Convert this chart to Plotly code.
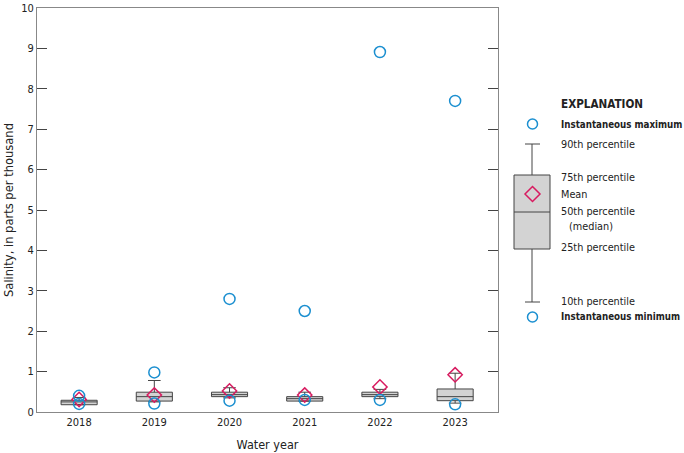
import plotly.graph_objects as go

years = ["2018", "2019", "2020", "2021", "2022", "2023"]
p10 = [0.20, 0.25, 0.35, 0.28, 0.33, 0.22]
q1 = [0.18, 0.27, 0.38, 0.27, 0.38, 0.28]
median = [0.25, 0.38, 0.43, 0.33, 0.43, 0.38]
q3 = [0.29, 0.49, 0.49, 0.38, 0.49, 0.57]
p90 = [0.36, 0.78, 0.60, 0.49, 0.56, 0.96]
means = [0.31, 0.42, 0.52, 0.42, 0.62, 0.92]
inst_max = [0.40, 0.98, 2.80, 2.50, 8.91, 7.70]
inst_min = [0.20, 0.21, 0.28, 0.30, 0.30, 0.19]

FONT = "DejaVu Sans Condensed, Liberation Sans Narrow, sans-serif"
BLUE = "#1b8fd0"
PINK = "#d81b60"
xpos = list(range(len(years)))

fig = go.Figure()
fig.add_trace(go.Box(
    x=xpos, q1=q1, median=median, q3=q3, lowerfence=p10, upperfence=p90,
    fillcolor="#d3d3d3", line=dict(color="#444444", width=1),
    width=0.48, whiskerwidth=0.35, boxpoints=False, hoverinfo="skip",
    showlegend=False,
))
fig.add_trace(go.Scatter(
    x=xpos, y=means, mode="markers", showlegend=False, cliponaxis=False,
    marker=dict(symbol="diamond-open", size=11, color=PINK, line=dict(width=1.5)),
))
fig.add_trace(go.Scatter(
    x=xpos, y=inst_max, mode="markers", showlegend=False, cliponaxis=False,
    marker=dict(symbol="circle-open", size=11, color=BLUE, line=dict(width=1.5)),
))
fig.add_trace(go.Scatter(
    x=xpos, y=inst_min, mode="markers", showlegend=False, cliponaxis=False,
    marker=dict(symbol="circle-open", size=11, color=BLUE, line=dict(width=1.5)),
))

# geometry of plot area in pixels
L, R, T, B = 37, 498, 8, 412
W, H = 684, 453
def px(x):
    return (x - L) / (R - L)
def py(y):
    return (B - y) / (B - T)

shapes = []
# legend box
shapes.append(dict(type="rect", xref="paper", yref="paper", x0=px(514), x1=px(550),
                   y0=py(249), y1=py(175), fillcolor="#d3d3d3", line=dict(color="#444", width=1)))
shapes.append(dict(type="line", xref="paper", yref="paper", x0=px(514), x1=px(550),
                   y0=py(212), y1=py(212), line=dict(color="#444", width=1)))
shapes.append(dict(type="line", xref="paper", yref="paper", x0=px(532), x1=px(532),
                   y0=py(175), y1=py(144), line=dict(color="#444", width=1)))
shapes.append(dict(type="line", xref="paper", yref="paper", x0=px(525), x1=px(540),
                   y0=py(144), y1=py(144), line=dict(color="#444", width=1)))
shapes.append(dict(type="line", xref="paper", yref="paper", x0=px(532), x1=px(532),
                   y0=py(249), y1=py(302), line=dict(color="#444", width=1)))
shapes.append(dict(type="line", xref="paper", yref="paper", x0=px(525), x1=px(540),
                   y0=py(302), y1=py(302), line=dict(color="#444", width=1)))
for cy in (124, 317):
    shapes.append(dict(type="circle", xref="paper", yref="paper", x0=px(527.5), x1=px(537.5),
                       y0=py(cy + 5), y1=py(cy - 5), line=dict(color=BLUE, width=1.5)))
dx, dy = 7.5, 7.5
cx, cy = 532.5, 194
path = "M {} {} L {} {} L {} {} L {} {} Z".format(
    px(cx), py(cy - dy), px(cx + dx), py(cy), px(cx), py(cy + dy), px(cx - dx), py(cy))
shapes.append(dict(type="path", xref="paper", yref="paper", path=path,
                   line=dict(color=PINK, width=1.5)))

ann = []
def txt(text, x, y, size=10.8, bold=False):
    ann.append(dict(text=("<b>%s</b>" % text) if bold else text, xref="paper", yref="paper",
                    x=px(x), y=py(y), xanchor="left", yanchor="middle", showarrow=False,
                    borderpad=0, font=dict(family=FONT, size=size, color="#222")))
txt("EXPLANATION", 560, 104, 11.6, True)
txt("Instantaneous maximum", 560, 124, 9.7, True)
txt("90th percentile", 560, 144)
txt("75th percentile", 560, 177)
txt("Mean", 560, 194)
txt("50th percentile", 560, 211)
txt("(median)", 568, 226)
txt("25th percentile", 560, 247)
txt("10th percentile", 560, 301)
txt("Instantaneous minimum", 560, 316, 9.7, True)

fig.update_layout(
    width=W, height=H, margin=dict(l=L, r=W - R, t=T, b=H - B),
    paper_bgcolor="white", plot_bgcolor="white",
    font=dict(family=FONT, size=11, color="#222"),
    shapes=shapes, annotations=ann,
)
fig.update_xaxes(
    range=[-0.56, 5.57], tickvals=xpos, ticktext=years, ticks="",
    showline=True, linecolor="#888", linewidth=1, mirror=True, showgrid=False,
    zeroline=False, automargin=False,
    title=dict(text="Water year", font=dict(size=12.5), standoff=12),
    tickfont=dict(size=11),
)
fig.update_yaxes(
    range=[0, 10], dtick=1, ticks="inside", ticklen=10, tickcolor="#444",
    showline=True, linecolor="#888", linewidth=1, mirror="ticks", showgrid=False,
    zeroline=False, automargin=False,
    title=dict(text="Salinity, in parts per thousand", font=dict(size=12.8), standoff=4),
    tickfont=dict(size=11),
)
fig.write_html("out.html", config={"displayModeBar": False},
               post_script="document.body.style.margin='0';document.body.style.overflow='hidden';")
